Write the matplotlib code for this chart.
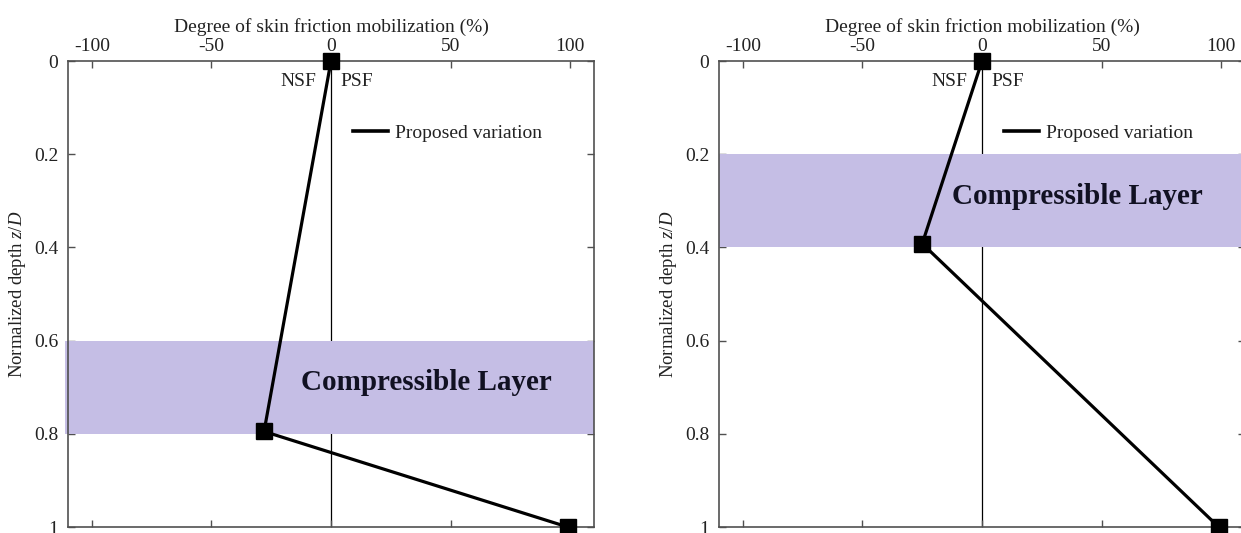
import matplotlib.pyplot as plt
from matplotlib.lines import Line2D

plt.rcParams['font.family'] = ['Liberation Serif', 'DejaVu Serif']
plt.rcParams['mathtext.fontset'] = 'custom'
plt.rcParams['mathtext.rm'] = 'Liberation Serif'
plt.rcParams['mathtext.it'] = 'Liberation Serif:italic'
plt.rcParams['axes.unicode_minus'] = False

# left panel: compressible layer deep (0.6 - 0.8)
left_mobilization = [0, -28, 99]
left_depth = [0, 0.795, 1.0]
left_layer = [0.6, 0.8]

# right panel: compressible layer shallow (0.2 - 0.4)
right_mobilization = [0, -25, 99]
right_depth = [0, 0.392, 1.0]
right_layer = [0.2, 0.4]

x_ticks = [-100, -50, 0, 50, 100]
y_ticks = [0, 0.2, 0.4, 0.6, 0.8, 1]
y_tick_labels = ["0", "0.2", "0.4", "0.6", "0.8", "1"]

layer_color = "#C5BEE5"
spine_color = "#505050"

fig = plt.figure(figsize=(12.41, 5.33), dpi=100)

W = 1241.0
H = 533.0
ax_left = fig.add_axes([68 / W, 6 / H, 526 / W, 466 / H])
ax_right = fig.add_axes([719 / W, 6 / H, 526 / W, 466 / H])

panels = [
    (ax_left, left_mobilization, left_depth, left_layer, -0.006),
    (ax_right, right_mobilization, right_depth, right_layer, 0.0),
]

for ax, xs, ys, layer, band_start in panels:
    ax.set_xlim(-110, 110)
    ax.set_ylim(1, 0)

    # zero line, layer band, then the proposed variation on top
    ax.axvline(0, color="black", lw=0.9, zorder=1)
    ax.axhspan(layer[0], layer[1], xmin=band_start, xmax=1.0, color=layer_color,
               lw=0, zorder=2, clip_on=False)
    ax.plot(xs, ys, color="black", lw=2.3, zorder=3)
    ax.plot(xs, ys, linestyle="none", marker="s", markersize=12,
            color="black", zorder=4, clip_on=False)

    ax.text(40, sum(layer) / 2 - 0.01, "Compressible Layer", fontsize=21,
            fontweight="bold", color="#111122", ha="center", va="center",
            zorder=5)

    ax.text(-6, 0.043, "NSF", fontsize=14, ha="right", va="center", color="#222222")
    ax.text(4, 0.043, "PSF", fontsize=14, ha="left", va="center", color="#222222")

    handle = Line2D([], [], color="black", lw=2.6)
    ax.legend([handle], ["Proposed variation"], loc="center left",
              bbox_to_anchor=(0.542, 0.845), frameon=False, borderpad=0,
              borderaxespad=0, handlelength=1.8, handletextpad=0.35,
              fontsize=14, labelcolor="#222222")

    ax.xaxis.set_label_position("top")
    ax.set_xlabel("Degree of skin friction mobilization (%)", fontsize=14,
                  labelpad=5, color="#222222")
    ax.set_ylabel("Normalized depth $z/D$", fontsize=13.5, color="#222222")
    ax.yaxis.set_label_coords(-0.076, 0.5)

    ax.set_xticks(x_ticks)
    ax.set_yticks(y_ticks)
    ax.set_yticklabels(y_tick_labels)
    ax.tick_params(axis="both", direction="in", length=5, width=1,
                   color=spine_color, labelsize=14, labelcolor="#222222",
                   top=True, bottom=True, left=True, right=True,
                   labeltop=True, labelbottom=False)
    ax.tick_params(axis="x", pad=4)
    ax.tick_params(axis="y", pad=7)

    for side in ax.spines:
        ax.spines[side].set_color(spine_color)
        ax.spines[side].set_linewidth(1.2)

plt.savefig("out.png", dpi=100)
